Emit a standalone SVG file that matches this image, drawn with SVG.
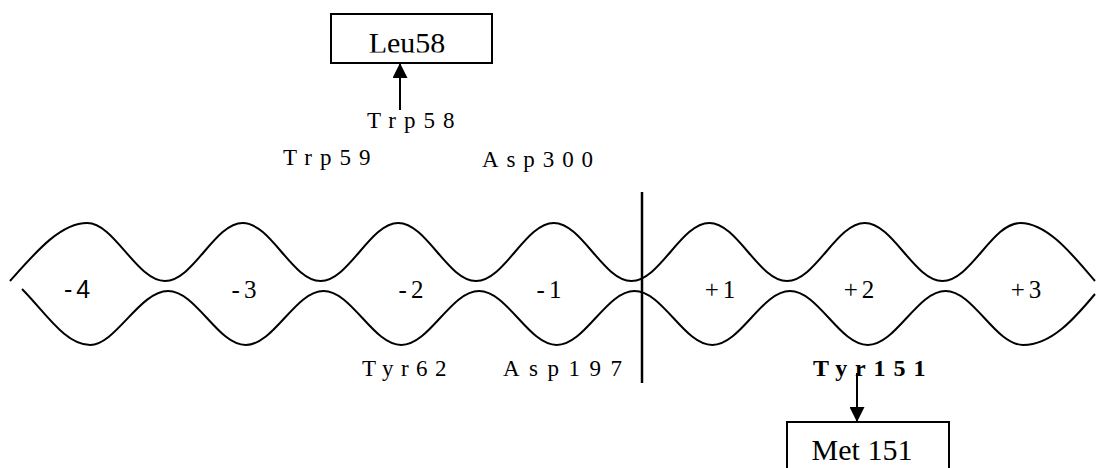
<svg xmlns="http://www.w3.org/2000/svg" width="1096" height="468" viewBox="0 0 1096 468">
<style>
.ln{fill:none;stroke:#000;stroke-width:2}
.box{fill:#fff;stroke:#000;stroke-width:2}
.t{font-family:"Liberation Serif","Times New Roman",serif;fill:#000}
.res{font-size:23px;letter-spacing:8px}
.lab{font-size:25px;text-anchor:middle;letter-spacing:4px}
.big{font-size:30px}
</style>
<defs>
<marker id="ah" markerUnits="userSpaceOnUse" markerWidth="15" markerHeight="15" refX="14" refY="7.5" orient="auto">
<path d="M0,0 L15,7.5 L0,15 z" fill="#000"/>
</marker>
<clipPath id="leuclip"><rect x="331" y="14" width="161" height="38.5"/></clipPath>
</defs>
<rect width="1096" height="468" fill="#fff"/>
<g id="strands">
<path class="ln" d="M 10 281 C 35 253 60 223 87.25 223 S 136.7 281 165 281 S 214.5 223 242.75 223 S 292.2 281 320.5 281 S 370 223 398.25 223 S 447.7 281 476 281 S 525.5 223 553.75 223 S 603.2 281 631.5 281 S 681 223 709.25 223 S 758.7 281 787 281 S 836.5 223 864.75 223 S 914.2 281 942.5 281 S 992 223 1020.25 223 C 1048.5 223 1075 258 1095 281"/>
<path class="ln" d="M 22 289 C 45 312 65 345 90.25 345 S 139.7 291 168 291 S 217.5 345 245.75 345 S 295.2 291 323.5 291 S 373 345 401.25 345 S 450.7 291 479 291 S 528.5 345 556.75 345 S 606.2 291 634.5 291 S 684 345 712.25 345 S 761.7 291 790 291 S 839.5 345 867.75 345 S 917.2 291 945.5 291 S 995 345 1023.25 345 C 1051.5 345 1075 318 1095 294"/>
</g>
<g id="cleavage">
<line x1="642" y1="192" x2="642" y2="383" stroke="#000" stroke-width="2.5"/>
</g>
<g id="subsites">
<text class="t lab" x="79" y="298" style="font-family:'Liberation Sans',Arial,sans-serif">-4</text>
<text class="t lab" x="246" y="298">-3</text>
<text class="t lab" x="413" y="298">-2</text>
<text class="t lab" x="551" y="298">-1</text>
<text class="t lab" x="722" y="298">+1</text>
<text class="t lab" x="861" y="298">+2</text>
<text class="t lab" x="1028" y="298">+3</text>
</g>
<g id="leu58">
<rect class="box" x="331" y="14" width="161" height="49"/>
<text class="t big" x="407" y="53" text-anchor="middle" clip-path="url(#leuclip)">Leu58</text>
</g>
<g id="trp58"><text class="t res" x="367" y="128">Trp58</text></g>
<g id="trp59"><text class="t res" x="283" y="165">Trp59</text></g>
<g id="asp300"><text class="t res" x="482" y="167" style="letter-spacing:7.9px">Asp300</text></g>
<g id="tyr62"><text class="t res" x="362" y="376" style="letter-spacing:7.5px">Tyr62</text></g>
<g id="asp197"><text class="t res" x="503" y="376" style="letter-spacing:9.5px">Asp197</text></g>
<g id="tyr151"><text class="t" x="813" y="376" style="font-size:24px;font-weight:bold;letter-spacing:7.9px">Tyr151</text></g>
<g id="met151">
<rect class="box" x="787" y="422" width="162" height="60"/>
<text class="t big" x="862" y="460" text-anchor="middle">Met 151</text>
</g>
<g id="connectors">
<line class="ln" x1="400" y1="110" x2="400" y2="64" marker-end="url(#ah)"/>
<line class="ln" x1="857" y1="373" x2="857" y2="421" marker-end="url(#ah)"/>
</g>
</svg>
